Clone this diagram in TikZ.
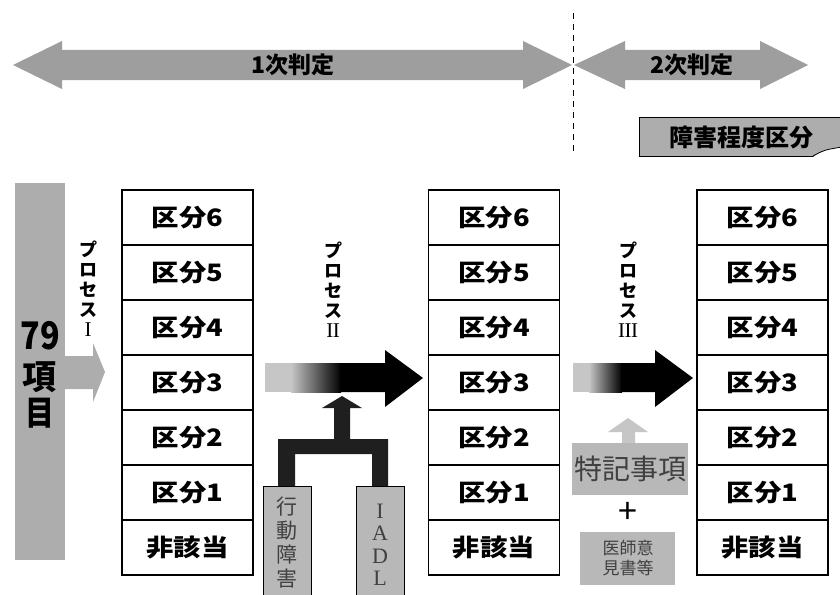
\documentclass[tikz,border=0pt]{standalone}
\usepackage{fontspec}
\newfontfamily\jp{Noto Sans CJK JP}
\newfontfamily\jpw[FakeStretch=1.14]{Noto Sans CJK JP}
\newfontfamily\jpn[FakeStretch=0.85]{Noto Sans CJK JP}
\newfontfamily\serifL{Liberation Serif}
\usetikzlibrary{calc}
\definecolor{tgray}{gray}{0.62}
\definecolor{bgray}{gray}{0.68}
\definecolor{lgray}{gray}{0.72}
\newcommand\romnum[1]{{\serifL\mdseries\fontsize{21}{21}\selectfont #1}}
\begin{document}
\begin{tikzpicture}[x=1pt,y=-1pt,
  cell/.style={draw,line width=1.5pt,minimum width=131pt,minimum height=55pt,inner sep=0pt,
    font=\jpw\bfseries\fontsize{24}{26}\selectfont},
  proc/.style={align=center,inner sep=0pt,font=\jp\bfseries\fontsize{18}{20}\selectfont},
  toptext/.style={inner sep=0pt,font=\jp\bfseries\fontsize{23}{24}\selectfont},
  vbox/.style={draw,line width=0.8pt,fill=lgray},
  vtext/.style={align=center,inner sep=0pt,text=black!75},
]
\clip (0,0) rectangle (840,594);
\useasboundingbox (0,0) rectangle (840,594);
\fill[white] (0,0) rectangle (840,594);

% top double arrows
\fill[tgray] (13,65) -- (62,41) -- (62,50) -- (523,50) -- (523,41) -- (572,65)
  -- (523,89) -- (523,80) -- (62,80) -- (62,89) -- cycle;
\fill[tgray] (574,65) -- (625,41) -- (625,50) -- (760,50) -- (760,41) -- (808,65)
  -- (760,89) -- (760,80) -- (625,80) -- (625,89) -- cycle;
\node[toptext] (j1) at (293,65) {1次判定};
\node[toptext] (j2) at (692,65) {2次判定};
\coordinate (dtop) at (573,13);
\coordinate (dbot) at (573,152);
\draw[line width=0.8pt,dash pattern=on 6pt off 5pt] (dtop) -- (dbot);

% label box
\fill[bgray] (639,117) rectangle (842,156);
\draw[line width=1pt] (842,117) -- (639,117) -- (639,156) -- (842,156);
\fill[white] (813,157) .. controls (824,150) .. (842,147) -- (842,158) -- cycle;
\draw[line width=0.8pt] (813,156) .. controls (824,150) .. (842,147);
\node[toptext,font=\jp\bfseries\fontsize{24}{25}\selectfont] (lab) at (741,137) {障害程度区分};

% left bar with arrow
\fill[bgray] (15,183) rectangle (65,560);
\fill[bgray] (65,356) -- (93,356) -- (93,343) -- (105,372) -- (93,402) -- (93,389) -- (65,389) -- cycle;
\node[inner sep=0pt,font=\jpn\bfseries\fontsize{38}{38}\selectfont] (n79) at (40,336) {79};
\node[inner sep=0pt,font=\jp\bfseries\fontsize{34}{34}\selectfont] (k1) at (40,377) {項};
\node[inner sep=0pt,font=\jpn\bfseries\fontsize{34}{34}\selectfont] (k2) at (40,413) {目};

% process labels
\node[proc] (p1) at (88,289) {プ\\ロ\\セ\\ス\\\romnum{I}};
\node[proc] (p2) at (333,290) {プ\\ロ\\セ\\ス\\\romnum{I\kern-0.5pt I}};
\node[proc] (p3) at (628,290) {プ\\ロ\\セ\\ス\\\romnum{I\kern-0.5pt I\kern-0.5pt I}};

% columns
\foreach \c/\cx in {a/187.5,b/494,c/762.5}{
  \foreach \t [count=\k from 0] in {区分6,区分5,区分4,区分3,区分2,区分1,非該当}{
    \node[cell] (\c\k) at (\cx,{217.5+55*\k}) {\t};
  }
}

% process II arrow
\fill[gray!45] (265,363) rectangle (292,392);
\shade[left color=gray!45,right color=black] (291,363) rectangle (341,392);
\fill[black] (340,363) -- (385,363) -- (385,350) -- (423,378) -- (385,407) -- (385,392) -- (340,392) -- cycle;

% process III arrow
\fill[gray!45] (573,363) rectangle (590,392);
\shade[left color=gray!45,right color=black] (589,363) rectangle (622,392);
\fill[black] (621,363) -- (655,363) -- (655,350) -- (693,378) -- (655,407) -- (655,392) -- (621,392) -- cycle;

% fork arrow
\fill[black!88] (278,487) -- (278,439) -- (334,439) -- (334,408) -- (322,408) -- (342,396)
  -- (362,408) -- (350,408) -- (350,439) -- (388,439) -- (388,487) -- (372,487)
  -- (372,454) -- (295,454) -- (295,487) -- cycle;

% input boxes
\draw[vbox] (263,600) -- (263,486) -- (311,486) -- (311,600);
\draw[vbox] (356,600) -- (356,486) -- (404,486) -- (404,600);
\node[vtext,font=\jp\fontsize{21}{24}\selectfont] (kd) at (287,543) {行\\動\\障\\害};
\node[vtext,font=\serifL\fontsize{22}{22.5}\selectfont] (iadl) at (380,545) {I\\A\\D\\L};

% light up arrow and notes
\fill[gray!45] (622,444) -- (622,432) -- (608,432) -- (628,418) -- (648,432) -- (635,432) -- (635,444) -- cycle;
\fill[lgray] (572,443) rectangle (688,495);
\node[inner sep=0pt,text=black!75,font=\jp\fontsize{28}{28}\selectfont] (tk) at (630,469) {特記事項};
\node[inner sep=0pt,font=\jp\fontsize{34}{34}\selectfont] (plus) at (628,513) {+};
\fill[lgray] (580,532) rectangle (675,585);
\node[vtext,font=\jp\fontsize{17}{20}\selectfont] (ish) at (628,558) {医師意\\見書等};
\end{tikzpicture}
\end{document}
